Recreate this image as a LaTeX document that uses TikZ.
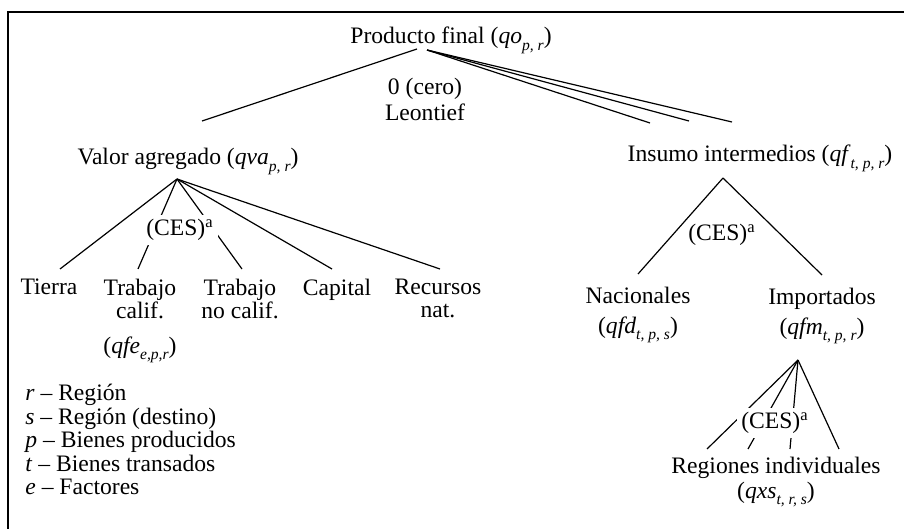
\documentclass[tikz,border=0pt]{standalone}
\usepackage{fontspec}
\setmainfont{Liberation Serif}
\usetikzlibrary{calc}
\newcommand{\ix}[1]{\raisebox{-3.2pt}{\fontsize{7.8}{7.8}\selectfont\itshape #1}}
\newcommand{\ces}{(CES)\textsuperscript{a}}

\begin{document}
\begin{tikzpicture}[x=0.5pt,y=-0.5pt,
                    every node/.style={font=\fontsize{11.8}{11.5}\selectfont},
                    leaf/.style={anchor=north,align=center,inner xsep=0pt,inner ysep=4.8pt},
                    branch/.style={line width=0.6pt}]
        \useasboundingbox (0,0) rectangle (904,529);
        % frame
        \draw[line width=0.8pt] (8,529) -- (8,12) -- (904,12);
        % top level
        \node[anchor=base] (prod) at (451,44) {Producto final (\textit{qo}\ix{p, r})};
        \node[anchor=north,align=center,inner sep=0pt,
              font=\fontsize{11.8}{13}\selectfont] (leon) at (425,78) {0 (cero)\\Leontief};
        \node[anchor=base] (valor) at (188,165) {Valor agregado (\textit{qva}\ix{p, r})};
        \node[anchor=base] (insumo) at (760,162) {Insumo intermedios (\textit{qf}\ix{t, p, r})};
        % branching points and free ends
        \coordinate (prodL) at (417,49);
        \coordinate (prodR) at (427,50);
        \coordinate (valEnd) at (202,121);
        \coordinate (insA) at (650,123);
        \coordinate (insB) at (689,121);
        \coordinate (insC) at (732,122);
        \coordinate (valTop) at (177,179);
        \coordinate (insTop) at (723,178);
        \coordinate (impTop) at (798,360);
        % value added leaves
        \node[leaf] (tierra) at (49,269) {Tierra};
        \node[leaf] (calif) at (140,269) {Trabajo\\calif.\\[6pt](\textit{qfe}\ix{e,p,r})};
        \node[leaf] (nocalif) at (240,269) {Trabajo\\no calif.};
        \node[leaf] (capital) at (337,269) {Capital};
        \node[leaf] (recursos) at (438,269) {Recursos\\nat.};
        % intermediate inputs
        \node[leaf,inner ysep=6.3pt,font=\fontsize{11.8}{15}\selectfont] (nac) at (638,274)
            {Nacionales\\(\textit{qfd}\ix{t, p, s})};
        \node[leaf,inner ysep=6.3pt,font=\fontsize{11.8}{15}\selectfont] (imp) at (822,275)
            {Importados\\(\textit{qfm}\ix{t, p, r})};
        \node[leaf,inner ysep=3.8pt,font=\fontsize{11.8}{12.5}\selectfont] (reg) at (776,449)
            {Regiones individuales\\(\textit{qxs}\ix{t, r, s})};
        % legend
        \node[anchor=north west,align=left,inner sep=0pt,
              font=\fontsize{11.8}{11.75}\selectfont] (legend) at (25,384)
            {\textit{r} -- Región\\
             \textit{s} -- Región (destino)\\
             \textit{p} -- Bienes producidos\\
             \textit{t} -- Bienes transados\\
             \textit{e} -- Factores};
        % branches
        \draw[branch] (prodL) -- (valEnd);
        \foreach \e in {insA,insB,insC}
            \draw[branch] (prodR) -- (\e);
        \foreach \n/\dx in {tierra/11,calif/-2,nocalif/2,capital/-5,recursos/2}
            \draw[branch] (valTop) -- ($(\n.north)+(\dx,0)$);
        \draw[branch] (insTop) -- (nac.north);
        \draw[branch] (insTop) -- (imp.north);
        \foreach \dx in {-69,-28,14,63}
            \draw[branch] (impTop) -- ($(reg.north)+(\dx,0)$);
        % CES labels over the branches
        \node[fill=white,inner sep=2pt] (cesVal) at (180,230) {\ces};
        \node (cesIns) at (722,235) {\ces};
        \node[fill=white,inner sep=2pt] (cesImp) at (775,423) {\ces};
      \end{tikzpicture}
\end{document}
